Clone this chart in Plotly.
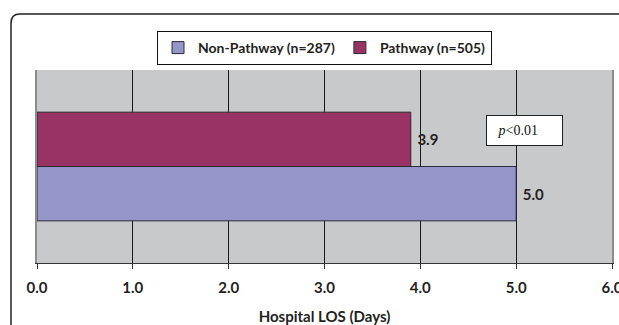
import plotly.graph_objects as go

categories = [""]
series_names = ["Non-Pathway (n=287)", "Pathway (n=505)"]
non_pathway = [5.0]
pathway = [3.9]
tick_vals = [0, 1, 2, 3, 4, 5, 6]
tick_text = ["0.0", "1.0", "2.0", "3.0", "4.0", "5.0", "6.0"]
x_title = "Hospital LOS (Days)"
p_text = "&nbsp;&nbsp;&nbsp;<i>p</i>&lt;0.01"

font_main = "Lato, 'Open Sans', sans-serif"
FS = 15
TXT = "#231f20"

fig = go.Figure()
fig.add_trace(go.Bar(
    y=[0], x=non_pathway, orientation="h", name=series_names[0],
    marker=dict(color="#9595c9", line=dict(color="#2a2a3a", width=1)),
    texttemplate="&nbsp;%{x:.1f}", textposition="outside",
    textfont=dict(family=font_main, size=FS, color=TXT, weight="bold"),
    cliponaxis=False,
))
fig.add_trace(go.Bar(
    y=[0], x=pathway, orientation="h", name=series_names[1],
    marker=dict(color="#993366", line=dict(color="#2a2a2a", width=1)),
    texttemplate="&nbsp;%{x:.1f}", textposition="outside",
    textfont=dict(family=font_main, size=FS, color=TXT, weight="bold"),
    cliponaxis=False,
))

W, H = 619, 325
ml, mr, mt, mb = 37, 7, 70, 62
pw, ph = W - ml - mr, H - mt - mb

def px(xp):
    return (xp - ml) / pw

def py(yp):
    return (H - mb - yp) / ph

# outer rounded frame
x0, y0 = px(11), py(14)
r = 9
xr = px(11 + r) - x0
yr = y0 - py(14 + r)
ybot = py(330)
xright = px(630)
path = (f"M {x0},{ybot} L {x0},{y0 - yr} Q {x0},{y0} {x0 + xr},{y0} "
        f"L {xright},{y0}")

fig.update_layout(
    width=W, height=H,
    margin=dict(l=ml, r=mr, t=mt, b=mb, autoexpand=False),
    paper_bgcolor="white",
    plot_bgcolor="#c8c9cb",
    barmode="group",
    bargap=0.437,
    bargroupgap=0,
    showlegend=True,
    legend=dict(
        orientation="h", x=px(324.5), xanchor="center", y=py(31), yanchor="top",
        bgcolor="white", bordercolor="#111111", borderwidth=1,
        font=dict(family=font_main, size=14, color=TXT, weight="bold"),
        itemwidth=30, traceorder="normal",
    ),
    xaxis=dict(
        range=[0, 6], tickvals=tick_vals, ticktext=tick_text,
        showgrid=True, gridcolor="#1a1a1a", gridwidth=1,
        zeroline=False,
        showline=True, linecolor="#333333", linewidth=1,
        ticks="outside", ticklen=5, tickcolor="#333333",
        ticklabelstandoff=6, ticklabeloverflow="allow",
        tickfont=dict(family=font_main, size=FS, color=TXT, weight="bold"),
        automargin=False,
        title=dict(text=x_title, standoff=22,
                   font=dict(family=font_main, size=FS, color=TXT, weight="bold")),
    ),
    yaxis=dict(
        range=[-0.5, 0.5], showticklabels=False, showgrid=False,
        zeroline=False, showline=True, mirror=True,
        linecolor="#8c8c8c", linewidth=1.5, ticks="", automargin=False,
    ),
    shapes=[dict(type="path", path=path, xref="paper", yref="paper",
                 line=dict(color="#222222", width=1.5), layer="above")],
    annotations=[dict(
        x=5.085, y=0.1876, xref="x", yref="y", text=p_text, showarrow=False,
        font=dict(family="'Liberation Serif', 'DejaVu Serif', serif", size=14, color="#111111"),
        bgcolor="white", bordercolor="#222222", borderwidth=1,
        width=73, height=27, align="left",
    )],
)

fig.write_html("out.html", config={"displayModeBar": False},
               post_script="document.body.style.margin='0';")
